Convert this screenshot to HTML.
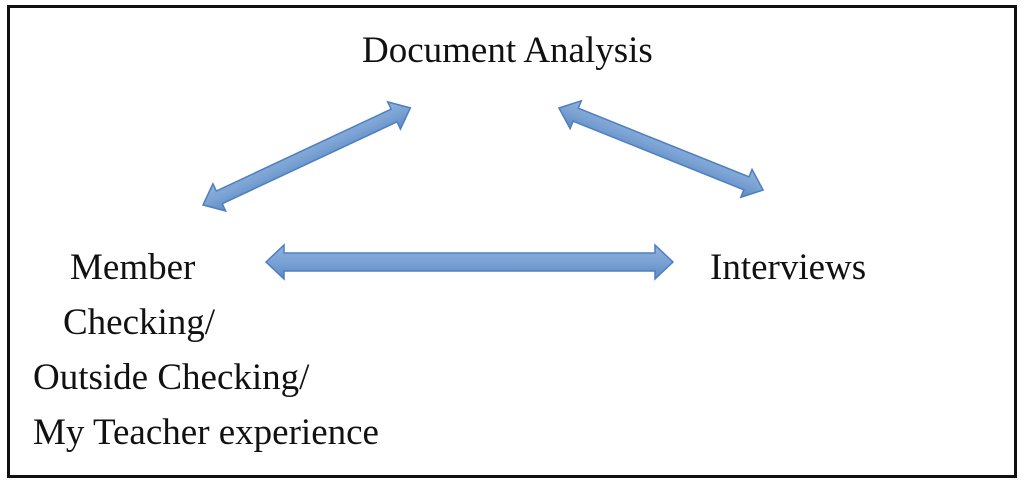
<!DOCTYPE html>
<html><head><meta charset="utf-8"><style>
html,body{margin:0;padding:0;background:#fff;}
body{width:1024px;height:489px;position:relative;overflow:hidden;font-family:"Liberation Serif",serif;color:#111;}
.t{position:absolute;font-size:37px;line-height:1;white-space:nowrap;}
</style></head><body>
<svg width="1024" height="489" style="position:absolute;left:0;top:0">
<defs>
<linearGradient id="g" x1="0" y1="0" x2="0" y2="1">
<stop offset="0" stop-color="#8fb3de"/><stop offset="0.5" stop-color="#7aa2d3"/><stop offset="1" stop-color="#5d8ac4"/>
</linearGradient>
</defs>
<rect x="8.5" y="6.5" width="1007" height="470" fill="none" stroke="#111" stroke-width="3"/>
<g fill="url(#g)" stroke="#4f7fbf" stroke-width="1.5">
<!-- horizontal -->
<polygon points="266,262 284,245 284,253 655,253 655,245 673,262 655,279 655,271 284,271 284,279"/>
<!-- left diagonal: from (203,205) to (410,108) -->
<g transform="translate(203,205) rotate(-25.1)">
<polygon points="0,0 18,-15 18,-7 211,-7 211,-15 229,0 211,15 211,7 18,7 18,15"/>
</g>
<!-- right diagonal: from (559,108) to (763,190) -->
<g transform="translate(559,108) rotate(21.9)">
<polygon points="0,0 18,-15 18,-7 202,-7 202,-15 220,0 202,15 202,7 18,7 18,15"/>
</g>
</g>
</svg>
<div class="t" style="left:362px;top:32px">Document Analysis</div>
<div class="t" style="left:70px;top:249px">Member</div>
<div class="t" style="left:710px;top:249px">Interviews</div>
<div class="t" style="left:63px;top:304px">Checking/</div>
<div class="t" style="left:33px;top:359px">Outside Checking/</div>
<div class="t" style="left:33px;top:414px">My Teacher experience</div>
</body></html>
